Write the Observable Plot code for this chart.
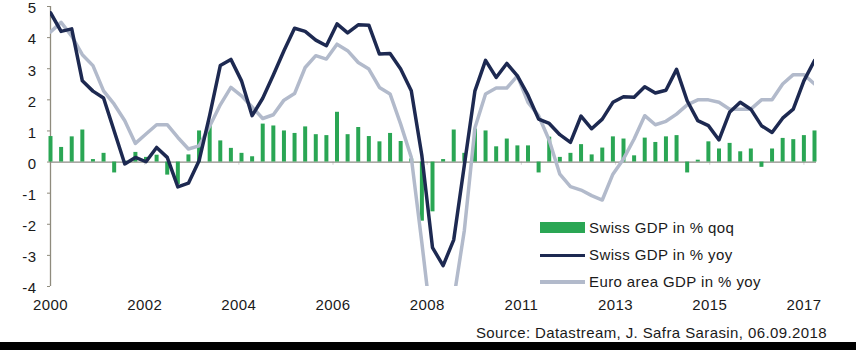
<!DOCTYPE html>
<html>
<head>
<meta charset="utf-8">
<script src="https://cdn.jsdelivr.net/npm/d3@7"></script>
<script src="https://cdn.jsdelivr.net/npm/@observablehq/plot@0.6"></script>
<style>
  html, body { margin: 0; padding: 0; background: #fff; }
  #wrap { position: relative; width: 856px; height: 350px; overflow: hidden;
          font-family: "Liberation Sans", Arial, sans-serif; color: #1a1a1a; letter-spacing: 0.4px; }
  #chart svg { display: block; overflow: visible; }
  .lg { position: absolute; }
  .lgtext { position: absolute; left: 589px; font-size: 15px; line-height: 18px; white-space: nowrap; }
  #source { position: absolute; right: 29px; top: 324px; font-size: 15px; line-height: 18px; white-space: nowrap; }
  #bar { position: absolute; left: 0; top: 342px; width: 856px; height: 8px; background: #000; }
</style>
</head>
<body>
<div id="wrap">
  <div id="chart"></div>
  <div class="lg" style="left:540px;top:222px;width:45px;height:11px;background:#2aa654"></div>
  <div class="lgtext" style="top:219px">Swiss GDP in % qoq</div>
  <div class="lg" style="left:540px;top:253.5px;width:45px;height:3.5px;background:#1d2951"></div>
  <div class="lgtext" style="top:246px">Swiss GDP in % yoy</div>
  <div class="lg" style="left:540px;top:280px;width:45px;height:3.5px;background:#b2bacb"></div>
  <div class="lgtext" style="top:273px">Euro area GDP in % yoy</div>
  <div id="source">Source: Datastream, J. Safra Sarasin, 06.09.2018</div>
  <div id="bar"></div>
</div>
<script>
// Quarterly observations, 2000Q1 .. 2018Q1 (73 quarters)
const quarters = Array.from({length: 73}, (_, i) => 2000 + i / 4);

const swissQoq = [0.82,0.47,0.81,1.03,0.08,0.28,-0.35,0.03,0.31,0.15,
  0.22,-0.42,-0.72,0.23,1.0,1.24,0.68,0.44,0.28,0.17,
  1.22,1.16,1.0,0.92,1.13,0.88,0.85,1.6,0.88,1.11,
  0.82,0.65,0.92,0.66,0.1,-1.9,-1.6,0.08,1.03,0.28,
  1.06,1.0,0.49,0.74,0.52,0.52,-0.35,0.8,0.15,0.28,
  0.56,0.23,0.45,0.81,0.74,0.2,0.77,0.63,0.81,0.85,
  -0.35,0.06,0.65,0.42,0.6,0.33,0.42,-0.17,0.42,0.76,
  0.72,0.85,1.0];

const swissYoy = [4.8,4.2,4.28,2.61,2.28,2.06,1.0,-0.06,0.15,0.01,
  0.47,0.15,-0.8,-0.68,0.04,1.5,3.1,3.3,2.61,1.49,
  2.05,2.8,3.58,4.3,4.2,3.92,3.74,4.44,4.15,4.41,
  4.4,3.47,3.49,2.99,2.29,0.2,-2.75,-3.33,-2.5,-0.1,
  2.29,3.27,2.72,3.17,2.77,2.15,1.38,1.24,0.88,0.63,
  1.48,1.07,1.38,1.92,2.1,2.08,2.42,2.22,2.31,2.98,
  1.97,1.33,1.17,0.71,1.6,1.92,1.7,1.17,0.95,1.41,
  1.7,2.61,3.26];

const euroYoy = [4.18,4.49,4.05,3.45,3.1,2.29,1.86,1.33,0.6,0.9,
  1.2,1.2,0.79,0.42,0.52,1.15,1.84,2.4,2.13,1.77,
  1.4,1.52,1.99,2.2,3.04,3.42,3.31,3.79,3.58,3.2,
  2.99,2.4,2.19,1.22,0.15,-2.6,-5.5,-5.2,-4.4,-2.2,
  1.1,2.19,2.38,2.38,2.77,1.92,1.49,0.7,-0.39,-0.79,
  -0.9,-1.08,-1.22,-0.39,0.1,0.74,1.49,1.2,1.31,1.54,
  1.84,2.0,2.0,1.92,1.7,1.7,1.7,2.0,2.0,2.51,
  2.81,2.81,2.51];

const tickLabels = ["2000","2002","2004","2006","2008","2011","2013","2015","2017"];
const yTicks = [-4,-3,-2,-1,0,1,2,3,4,5];

// axis ticks evenly spread (every 8.875 quarters, as in the original date axis)
const tickPos = tickLabels.map((_, k) => 2000 + k * 71 / 32);

const data = quarters.map((t, i) => ({t, qoq: swissQoq[i], ch: swissYoy[i], ea: euroYoy[i]}));

const chart = Plot.plot({
  width: 856,
  height: 318,
  marginLeft: 50,
  marginRight: 42,
  marginTop: 6,
  marginBottom: 32,
  style: {fontFamily: "'Liberation Sans', Arial, sans-serif", fontSize: "15px", color: "#1a1a1a", background: "#fff", letterSpacing: "0.4px"},
  x: {domain: [2000, 2018], axis: null, label: null},
  y: {domain: [-4, 5], axis: null, label: null},
  marks: [
    // tick marks of the y axis
    Plot.axisY({ticks: yTicks, tickSize: 3, label: null, tickFormat: () => "", stroke: "#8f8b7d"}),
    // labels of the y axis
    Plot.axisY({ticks: yTicks, tickSize: 0, tickPadding: 14, fontSize: 15, label: null, dy: 2,
      tickFormat: d => String(d), fill: "#1a1a1a"}),
    Plot.axisX({ticks: tickPos, tickSize: 0, tickPadding: 13, fontSize: 15, label: null,
      tickFormat: d => tickLabels[tickPos.indexOf(d)], fill: "#1a1a1a"}),
    Plot.ruleX(tickPos.slice(1), {y1: 0, y2: -0.1, stroke: "#d8d8d8", strokeWidth: 1.2}),
    Plot.ruleY([0], {stroke: "#8c8c86", strokeWidth: 1.3, insetRight: -2}),
    Plot.ruleX([2000], {stroke: "#8f8b7d", strokeWidth: 1.3}),
    Plot.ruleX(data, {x: "t", y1: 0, y2: "qoq", stroke: "#2aa654", strokeWidth: 4}),
    Plot.line(data, {x: "t", y: "ea", stroke: "#b2bacb", strokeWidth: 3.5, clip: true, strokeLinejoin: "round"}),
    Plot.line(data, {x: "t", y: "ch", stroke: "#1d2951", strokeWidth: 3.5, clip: true, strokeLinejoin: "round"})
  ]
});
document.getElementById("chart").append(chart);
</script>
</body>
</html>
